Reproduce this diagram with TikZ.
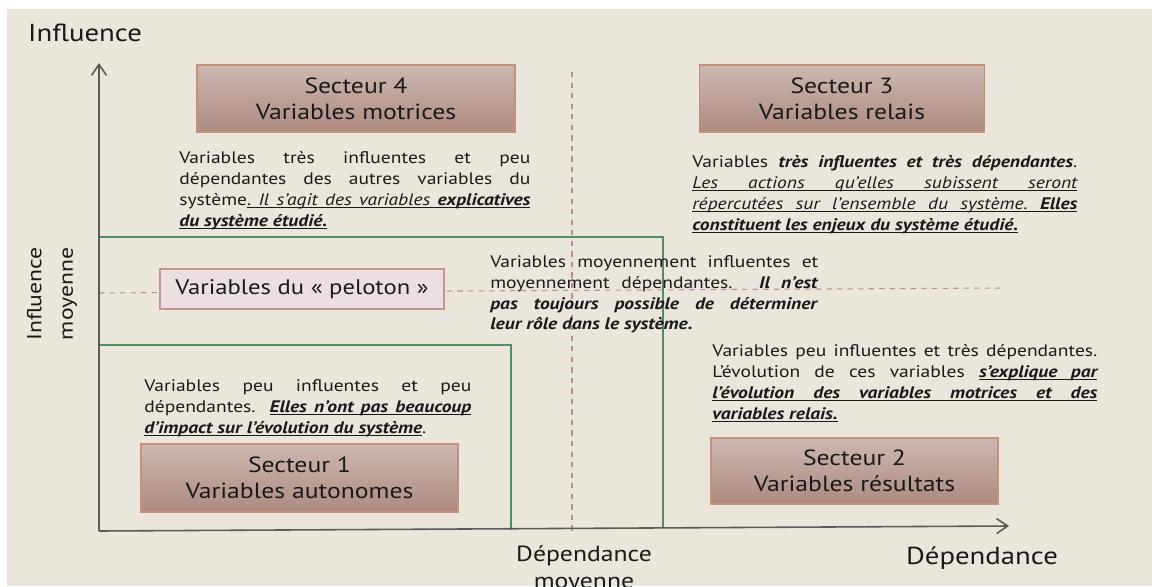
\documentclass[tikz,border=0pt]{standalone}
\usepackage{fontspec}
\setmainfont{PT Sans}[FakeStretch=1.17]
\usetikzlibrary{arrows.meta, positioning}
\definecolor{mdbg}{HTML}{EAE6DC}
\definecolor{mdaxis}{HTML}{5A5A5A}
\definecolor{mdgreen}{HTML}{4F8E63}
\definecolor{mddash}{HTML}{BF8AA0}
\definecolor{mdtop}{HTML}{CDB8B2}
\definecolor{mdbot}{HTML}{AD8A80}
\definecolor{mdedge}{HTML}{C8907C}
\definecolor{mdpink}{HTML}{EBDFE2}
\definecolor{mdpinkedge}{HTML}{C2988C}
\definecolor{mdtext}{HTML}{1A1A1A}
% underlined words and spaces (one line at a time)
\newcommand\ulw[1]{\setbox0\hbox{#1}\rlap{\rule[-1.7pt]{\wd0}{0.45pt}}\box0}
\newcommand\us{\leaders\hrule height -1.25pt depth 1.7pt\hskip\fontdimen2\font plus\fontdimen3\font minus\fontdimen4\font\relax}
\def\ulsplit#1 #2\ulend{\ulw{#1}\ifx\relax#2\relax\else\us\ulsplit#2\ulend\fi}
\newcommand\ulp[1]{\ulsplit#1 \ulend}

\begin{document}
\begin{tikzpicture}[
  every node/.style={text=mdtext},
  sectorbox/.style={rectangle, draw=mdedge, line width=0.8pt, top color=mdtop, bottom color=mdbot, align=center, font=\fontsize{12.5}{14.7}\selectfont},
  pelotonbox/.style={rectangle, draw=mdpinkedge, line width=0.8pt, fill=mdpink, minimum width=5.68cm, minimum height=0.8cm, font=\fontsize{12}{14}\selectfont},
  descnode/.style={anchor=north west, inner sep=0pt, align=justify, font=\fontsize{9.5}{11.9}\selectfont},
  axislabel/.style={font=\fontsize{14}{16}\selectfont},
  midlabel/.style={align=center, inner sep=0pt, font=\fontsize{12.5}{15.3}\selectfont},
  axisline/.style={draw=mdaxis, line width=0.9pt},
  zoneline/.style={draw=mdgreen, line width=0.9pt},
  midline/.style={draw=mddash, dashed, line width=0.6pt},
]

% Page and background
\useasboundingbox (0,0) rectangle (23.04,-11.72);
\fill[white] (0,0) rectangle (23.04,-11.72);
\fill[mdbg] (0.14,-0.18) rectangle (23.04,-11.72);

% Axes
\coordinate (orig) at (1.98,-10.62);
\coordinate (ytop) at (1.98,-1.26);
\coordinate (xend) at (20.18,-10.52);
\coordinate (vtop) at (11.44,-1.44);
\coordinate (vbot) at (11.44,-10.70);
\coordinate (hleft) at (1.98,-5.86);
\coordinate (hright) at (20.06,-5.76);

% Medium dependence / influence lines
\draw[midline] (vtop) -- (vbot);
\draw[midline] (hleft) -- (hright);

% Zones
\draw[zoneline] (1.98,-4.74) -| (13.26,-10.56);
\draw[zoneline] (1.98,-6.90) -| (10.22,-10.60);

\draw[axisline, -{Straight Barb[length=2.2mm, width=3mm]}] (orig) -- (ytop);
\draw[axisline, -{Straight Barb[length=2.2mm, width=3mm]}] (orig) -- (xend);

% Axis labels
\node[axislabel, anchor=west] (infl) at (0.44,-0.66) {Influence};
\node[axislabel] (dep) at (19.64,-11.16) {Dépendance};
\node[midlabel, anchor=north] (depmoy) at (11.68,-10.90) {Dépendance\\moyenne};
\node[midlabel, rotate=90, font=\fontsize{11.5}{18}\selectfont] (inflmoy) at (1.04,-5.88) {Influence\\moyenne};

% Sectors
\node[sectorbox, minimum width=6.36cm, minimum height=1.34cm] (sect4) at (7.12,-1.97) {Secteur 4\\Variables motrices};
\node[sectorbox, minimum width=5.70cm, minimum height=1.34cm] (sect3) at (16.84,-1.97) {Secteur 3\\Variables relais};
\node[sectorbox, minimum width=6.34cm, minimum height=1.36cm] (sect1) at (5.99,-9.56) {Secteur 1\\Variables autonomes};
\node[sectorbox, minimum width=5.74cm, minimum height=1.32cm] (sect2) at (17.09,-9.42) {Secteur 2\\Variables résultats};
\node[pelotonbox] (peloton) at (6.04,-5.78) {Variables du «~peloton~»};

% Descriptions
\node[descnode, text width=7.02cm] (desc4) at (3.58,-3.02) {Variables très influentes et peu\linebreak
  dépendantes des autres variables du\linebreak
  système\ulw{.}\us{\itshape\ulp{Il s'agit des variables}\us\bfseries\ulw{explicatives}}\linebreak
  {\bfseries\itshape\ulp{du système étudié.}}};
\node[descnode, text width=7.70cm] (desc3) at (13.84,-3.10) {Variables \textbf{\textit{très influentes et très dépendantes}}.\linebreak
  {\itshape\ulp{Les actions qu'elles subissent seront}}\linebreak
  {\itshape\ulp{répercutées sur l'ensemble du système.}\us\bfseries\ulw{Elles}}\linebreak
  {\bfseries\itshape\ulp{constituent les enjeux du système étudié.}}};
\node[descnode, text width=6.56cm] (descm) at (9.80,-5.10) {Variables moyennement influentes et\linebreak
  moyennement dépendantes. \textbf{\textit{Il n'est}}\linebreak
  \textbf{\textit{pas toujours possible de déterminer}}\linebreak
  \textbf{\textit{leur rôle dans le système.}}};
\node[descnode, text width=7.70cm] (desc2) at (14.24,-6.88) {Variables peu influentes et très dépendantes.\linebreak
  L'évolution de ces variables {\bfseries\itshape\ulp{s'explique par}}\linebreak
  {\bfseries\itshape\ulp{l'évolution des variables motrices et des}}\linebreak
  {\bfseries\itshape\ulp{variables relais.}}};
\node[descnode, text width=6.54cm] (desc1) at (2.88,-7.58) {Variables peu influentes et peu\linebreak
  dépendantes. {\bfseries\itshape\ulp{Elles n'ont pas beaucoup}}\linebreak
  {\bfseries\itshape\ulp{d'impact sur l'évolution du système}}.};

\end{tikzpicture}
\end{document}
